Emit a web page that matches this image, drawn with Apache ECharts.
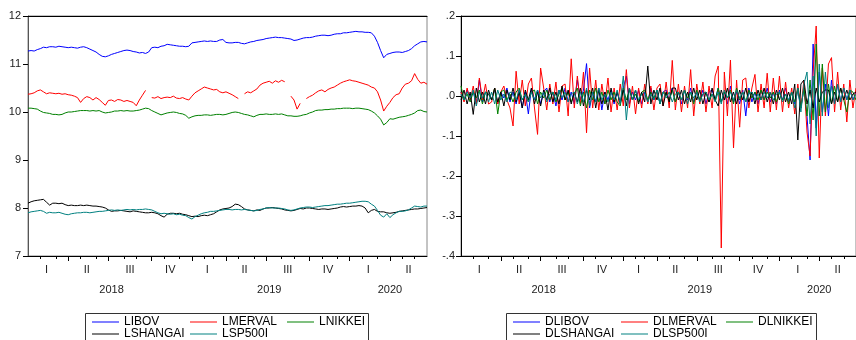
<!DOCTYPE html>
<html>
<head>
<meta charset="utf-8">
<script src="https://cdn.jsdelivr.net/npm/echarts@6/dist/echarts.min.js"></script>
<style>
  html, body { margin: 0; padding: 0; background: #fff; }
  #chart { width: 856px; height: 340px; }
</style>
</head>
<body>
<div id="chart"></div>
<script>
// observations per quarter, 2018 Q1 .. 2020 Q2 (roughly weekly)
const quarterLengths = [13, 13, 14, 13, 11, 13, 14, 13, 13, 12];
const quarterYears = ['2018', '2018', '2018', '2018', '2019', '2019', '2019', '2019', '2020', '2020'];
const quarterNames = ['I', 'II', 'III', 'IV', 'I', 'II', 'III', 'IV', 'I', 'II'];
const yearLabels = ['2018', '2019', '2020'];
const yearLabelIdx = [27, 78, 117];

// left panel: log levels
const LIBOV = [
  11.27, 11.28, 11.27, 11.30, 11.32, 11.35, 11.34, 11.36, 11.36, 11.35,
  11.37, 11.36, 11.35, 11.34, 11.35, 11.34, 11.33, 11.35, 11.36, 11.34,
  11.31, 11.28, 11.25, 11.20, 11.16, 11.15, 11.17, 11.20, 11.22, 11.24,
  11.26, 11.28, 11.29, 11.28, 11.26, 11.25, 11.23, 11.24, 11.22, 11.25,
  11.34, 11.35, 11.34, 11.37, 11.38, 11.41, 11.40, 11.39, 11.38, 11.37,
  11.37, 11.36, 11.37, 11.44, 11.45, 11.46, 11.47, 11.48, 11.47, 11.48,
  11.47, 11.47, 11.50, 11.51, 11.45, 11.44, 11.44, 11.45, 11.45, 11.43,
  11.42, 11.44, 11.46, 11.47, 11.49, 11.50, 11.51, 11.53, 11.54, 11.55,
  11.56, 11.55, 11.55, 11.54, 11.53, 11.52, 11.49, 11.50, 11.52, 11.54,
  11.55, 11.55, 11.56, 11.58, 11.59, 11.60, 11.60, 11.59, 11.60, 11.62,
  11.63, 11.63, 11.65, 11.65, 11.66, 11.67, 11.68, 11.67, 11.67, 11.66,
  11.66, 11.65, 11.58, 11.45, 11.28, 11.13, 11.20, 11.22, 11.24, 11.25,
  11.25, 11.24, 11.26, 11.28, 11.32, 11.38, 11.42, 11.46, 11.47, 11.46
];
const LMERVAL = [
  10.37, 10.38, 10.40, 10.44, 10.46, 10.42, 10.38, 10.40, 10.39, 10.38,
  10.39, 10.37, 10.38, 10.36, 10.35, 10.33, 10.30, 10.20, 10.28, 10.32,
  10.30, 10.25, 10.30, 10.26, 10.20, 10.14, 10.24, 10.25, 10.22, 10.26,
  10.25, 10.22, 10.24, 10.22, 10.20, 10.13, 10.25, 10.35, 10.45, null,
  10.30, 10.29, 10.32, 10.28, 10.30, 10.31, 10.30, 10.33, 10.29, 10.28,
  10.30, 10.27, 10.25, 10.33, 10.40, 10.44, 10.48, 10.52, 10.50, 10.48,
  10.46, 10.47, 10.42, 10.40, 10.42, 10.39, 10.36, 10.32, 10.28, null,
  10.38, 10.42, 10.40, 10.44, 10.48, 10.56, 10.60, 10.62, 10.64, 10.60,
  10.65, 10.62, 10.66, 10.63, null, 10.33, 10.25, 10.06, 10.18, null,
  10.28, 10.32, 10.35, 10.40, 10.44, 10.46, 10.42, 10.47, 10.50, 10.52,
  10.56, 10.60, 10.63, 10.65, 10.67, 10.65, 10.64, 10.62, 10.60, 10.58,
  10.56, 10.52, 10.50, 10.42, 10.25, 10.02, 10.12, 10.20, 10.30, 10.36,
  10.38, 10.50, 10.58, 10.60, 10.65, 10.80, 10.68, 10.60, 10.62, 10.58
];
const LNIKKEI = [
  10.08, 10.08, 10.07, 10.06, 10.02, 9.99, 9.98, 9.97, 9.95, 9.95,
  9.94, 9.95, 9.98, 10.00, 10.00, 10.01, 10.02, 10.03, 10.03, 10.03,
  10.02, 10.03, 10.02, 10.03, 10.00, 9.98, 9.99, 10.00, 10.02, 10.02,
  10.03, 10.02, 10.03, 10.02, 10.02, 10.03, 10.04, 10.06, 10.08, 10.07,
  10.03, 10.00, 9.97, 9.94, 9.96, 9.98, 9.99, 10.00, 9.99, 9.97,
  9.96, 9.93, 9.87, 9.90, 9.92, 9.93, 9.93, 9.94, 9.94, 9.93,
  9.94, 9.95, 9.95, 9.94, 9.95, 9.97, 9.99, 10.00, 9.99, 9.97,
  9.95, 9.94, 9.92, 9.90, 9.93, 9.95, 9.95, 9.96, 9.95, 9.95,
  9.96, 9.95, 9.96, 9.94, 9.92, 9.92, 9.91, 9.91, 9.92, 9.94,
  9.95, 9.98, 10.00, 10.03, 10.04, 10.04, 10.05, 10.05, 10.06, 10.06,
  10.07, 10.07, 10.08, 10.08, 10.08, 10.07, 10.08, 10.08, 10.07, 10.06,
  10.05, 10.02, 9.98, 9.92, 9.85, 9.73, 9.78, 9.86, 9.85, 9.87,
  9.89, 9.90, 9.91, 9.93, 9.95, 9.98, 10.03, 10.04, 10.01, 10.00
];
const LSHANGAI = [
  8.10, 8.13, 8.15, 8.16, 8.17, 8.18, 8.12, 8.06, 8.10, 8.10,
  8.09, 8.10, 8.07, 8.05, 8.06, 8.05, 8.05, 8.06, 8.05, 8.06,
  8.05, 8.04, 8.04, 8.03, 8.02, 8.00, 7.96, 7.93, 7.94, 7.94,
  7.95, 7.94, 7.93, 7.92, 7.94, 7.93, 7.92, 7.91, 7.90, 7.90,
  7.91, 7.90, 7.88, 7.84, 7.81, 7.87, 7.89, 7.89, 7.88, 7.89,
  7.87, 7.86, 7.84, 7.82, 7.83, 7.82, 7.84, 7.85, 7.84, 7.86,
  7.88, 7.92, 7.96, 7.98, 7.99, 8.00, 8.03, 8.08, 8.07, 8.03,
  7.98, 7.96, 7.95, 7.94, 7.96, 7.95, 7.98, 8.00, 8.00, 8.01,
  8.00, 7.99, 7.98, 7.96, 7.95, 7.94, 7.95, 7.97, 7.99, 7.98,
  8.00, 8.00, 7.99, 7.98, 7.97, 7.98, 7.98, 7.97, 7.98, 7.99,
  8.00, 8.02, 8.03, 8.02, 8.03, 8.04, 8.04, 8.05, 8.04, 8.00,
  7.90, 7.95, 7.97, 7.93, 7.92, 7.92, 7.90, 7.89, 7.90, 7.91,
  7.93, 7.94, 7.95, 7.96, 7.97, 7.98, 7.98, 7.99, 8.00, 8.01
];
const LSP500I = [
  7.90, 7.92, 7.93, 7.94, 7.95, 7.93, 7.89, 7.91, 7.90, 7.90,
  7.91, 7.89, 7.87, 7.86, 7.88, 7.89, 7.90, 7.90, 7.91, 7.91,
  7.90, 7.91, 7.92, 7.93, 7.93, 7.94, 7.95, 7.96, 7.95, 7.96,
  7.95, 7.96, 7.97, 7.96, 7.97, 7.96, 7.97, 7.97, 7.98, 7.97,
  7.96, 7.93, 7.90, 7.88, 7.89, 7.88, 7.87, 7.88, 7.86, 7.87,
  7.85, 7.84, 7.80, 7.77, 7.82, 7.85, 7.88, 7.90, 7.91, 7.93,
  7.93, 7.94, 7.95, 7.96, 7.97, 7.97, 7.96, 7.97, 7.97, 7.96,
  7.97, 7.96, 7.95, 7.94, 7.95, 7.97, 7.98, 8.00, 8.01, 8.00,
  8.00, 8.00, 7.99, 7.98, 7.96, 7.95, 7.96, 7.98, 8.00, 8.01,
  8.02, 8.02, 8.01, 8.02, 8.03, 8.04, 8.05, 8.05, 8.06, 8.07,
  8.08, 8.08, 8.09, 8.10, 8.10, 8.11, 8.12, 8.13, 8.14, 8.14,
  8.13, 8.08, 8.04, 7.95, 7.85, 7.81, 7.88, 7.80, 7.86, 7.90,
  7.93, 7.93, 7.94, 7.96, 8.00, 8.04, 8.03, 8.02, 8.04, 8.04
];

// right panel: log differences
const DLIBOV = [
  .01, -.01, .015, -.005, .01, -.02, .04, -.015, .01, .005,
  -.01, .015, -.02, .01, -.005, .02, -.015, .01, -.02, .015,
  -.03, .01, -.045, .02, -.01, .015, -.02, .01, .02, -.015,
  .01, -.025, .015, -.01, .02, -.015, .01, -.02, .04, -.01,
  .015, .081, -.03, .01, -.015, .02, -.035, .01, -.01, .015,
  -.02, .01, -.015, .02, .05, -.02, .01, -.01, .015, -.02,
  .01, -.015, .02, -.01, .015, -.02, .01, .015, -.01, .02,
  -.015, .01, -.02, .015, -.01, .02, -.015, .01, -.01, .015,
  -.02, .01, .015, -.01, .02, -.015, .01, -.02, .025, -.015,
  .01, -.02, .015, -.05, .02, -.015, .01, -.02, .015, -.01,
  .02, -.015, .01, -.02, .015, -.01, .02, -.015, .01, -.02,
  .015, -.03, .02, -.05, -.16, .13, -.08, .06, -.04, .03,
  -.05, .04, -.02, .03, -.015, .02, -.01, .015, -.01, .01
];
const DLMERVAL = [
  .01, -.015, .02, -.01, .025, -.02, .045, -.01, .03, -.02,
  -.015, .02, -.02, .01, .025, -.01, -.03, -.075, .062, -.02,
  .04, -.025, .03, .045, -.03, -.096, .07, .02, -.035, .03,
  -.02, .035, -.04, .025, .03, -.05, .093, -.03, .05, -.02,
  .06, -.092, .07, -.03, .04, -.035, .03, -.02, .045, -.04,
  .02, -.035, .03, -.025, .066, -.03, .025, -.045, .02, -.03,
  .03, -.02, .025, -.035, .02, .03, -.025, .035, -.03, .089,
  -.035, .03, -.04, .025, -.03, .066, -.05, .03, -.02, .035,
  -.04, .025, -.03, .05, .075, -.38, .06, -.05, .09, -.13,
  .04, -.078, .04, .045, -.03, .02, .054, -.04, .03, -.03,
  .057, -.04, .045, -.035, .05, -.04, .035, -.03, .02, -.045,
  .03, -.03, .04, -.09, -.15, .06, .175, -.155, .07, -.05,
  .08, .096, -.04, .06, -.035, .03, -.065, .04, -.03, .02
];
const DLNIKKEI = [
  .025, -.01, .005, -.015, .01, -.005, .015, -.02, .01, .005,
  -.01, .02, -.045, .01, .015, -.01, .005, -.015, .01, .02,
  -.01, .005, -.015, .01, .015, -.02, .01, -.005, .015, -.01,
  .01, -.015, .005, .02, -.01, .01, -.015, .005, .02, -.025,
  .01, -.03, .015, -.01, .02, -.015, .01, -.02, .015, -.01,
  .01, -.015, -.025, .02, -.01, .015, -.01, .005, -.015, .01,
  .015, -.01, .01, -.005, .015, -.02, .01, .005, -.01, .015,
  -.015, .01, -.01, .015, -.005, .01, -.02, .015, -.01, .005,
  .01, -.015, .005, -.01, .02, -.015, .01, -.005, .015, -.02,
  .02, -.01, .01, -.015, .015, -.005, .01, -.01, .015, -.01,
  .01, -.005, .01, -.015, .01, -.01, .005, -.02, .01, -.015,
  .02, -.03, .02, -.05, .04, -.06, .13, -.05, .08, -.04,
  .03, -.02, .025, -.015, .02, -.01, -.04, .015, .01, -.01
];
const DLSHANGAI = [
  -.01, .015, -.02, .01, -.046, .02, -.015, .01, -.02, .015,
  -.01, .02, -.015, .01, -.025, .015, -.01, .02, -.015, .01,
  -.03, .015, -.01, .02, -.02, .01, -.025, .015, -.01, .02,
  -.015, .01, -.02, .025, -.01, .015, -.02, .01, -.015, .02,
  -.025, .015, -.01, .02, -.03, .015, -.02, .01, -.035, .02,
  -.015, .01, -.02, .015, -.025, .02, -.01, .015, -.02, .01,
  -.015, .075, -.02, .015, -.01, .02, -.025, .01, -.015, .02,
  .02, -.01, .015, -.02, .01, -.015, .02, -.01, .015, -.02,
  .01, -.015, .02, -.01, -.025, .015, -.01, .02, -.015, .01,
  -.02, .015, -.01, .02, -.015, .01, -.02, .015, -.01, .02,
  -.015, .01, -.02, .015, -.01, .02, -.015, .01, -.02, .03,
  -.11, .03, .04, -.02, .015, -.03, .02, -.015, .01, .015,
  .015, -.02, .01, -.015, .02, -.01, .015, -.01, .005, .01
];
const DLSP500I = [
  .005, -.01, .01, -.005, .015, -.025, .01, -.005, .01, -.015,
  .01, -.02, .015, -.01, .005, -.015, .01, .005, -.01, .015,
  -.01, .005, -.015, .01, -.01, .015, -.005, .01, -.015, .005,
  .01, -.01, .015, -.005, .01, -.015, .005, .01, -.02, .01,
  -.015, .02, -.025, .01, -.015, .02, -.01, .005, -.015, .01,
  -.01, .015, -.02, .05, -.06, .02, -.01, .015, -.01, .005,
  .01, -.015, .005, -.01, .015, -.02, .01, -.005, .01, -.015,
  .005, .01, -.01, .015, -.02, .01, -.005, .01, -.015, .005,
  .01, -.01, .005, -.015, .01, -.02, .015, -.005, .01, -.01,
  .015, -.005, .01, -.015, .005, .01, -.01, .005, -.01, .01,
  -.005, .01, -.01, .005, .01, -.015, .005, -.01, .01, -.03,
  .02, -.04, .03, .06, -.07, .05, -.1, .08, -.05, .06,
  -.03, .025, -.02, .03, -.015, .02, -.01, .015, -.01, .005
];

const FONT = 'Liberation Sans, Arial, sans-serif';
const COLORS = ['#0000ff', '#ff0000', '#008000', '#000000', '#008080'];

// categories + tick / label positions derived from the quarter lengths
const periods = [];
const majorIdx = new Set();
const minorIdx = new Set();
const quarterMid = new Map();
let start = 0;
quarterLengths.forEach((len, q) => {
  majorIdx.add(start);
  minorIdx.add(start + Math.round(len / 3));
  minorIdx.add(start + Math.round(2 * len / 3));
  quarterMid.set(start + Math.floor(len / 2), quarterNames[q]);
  for (let w = 0; w < len; w++) periods.push(quarterYears[q] + '-' + q + '-' + w);
  start += len;
});
periods.push('end');
majorIdx.delete(0);
const yearAt = new Map(yearLabelIdx.map((i, k) => [i, yearLabels[k]]));

function xAxesFor(g) {
  const base = { type: 'category', gridIndex: g, data: periods, boundaryGap: false, splitLine: { show: false } };
  return [
    Object.assign({}, base, {
      position: 'bottom',
      axisLine: { onZero: false, lineStyle: { color: '#000', width: 1 } },
      axisTick: { length: 5, interval: i => majorIdx.has(i), lineStyle: { color: '#000' } },
      axisLabel: { interval: i => quarterMid.has(i), formatter: (v, i) => quarterMid.get(i) || '',
        margin: 8, fontSize: 11, color: '#222', fontFamily: FONT }
    }),
    Object.assign({}, base, {
      position: 'bottom',
      axisLine: { show: false, onZero: false },
      axisTick: { length: 3, interval: i => minorIdx.has(i), lineStyle: { color: '#000' } },
      axisLabel: { show: false }
    }),
    Object.assign({}, base, {
      position: 'bottom',
      axisLine: { show: false, onZero: false },
      axisTick: { show: false },
      axisLabel: { interval: i => yearAt.has(i), formatter: (v, i) => yearAt.get(i) || '',
        margin: 28, fontSize: 11, color: '#222', fontFamily: FONT }
    }),
    Object.assign({}, base, {
      position: 'top',
      axisLine: { onZero: false, lineStyle: { color: '#000', width: 1 } },
      axisTick: { show: false },
      axisLabel: { show: false }
    })
  ];
}

function lineSeries(name, data, color, g) {
  return {
    name: name, type: 'line', data: data, xAxisIndex: g * 4, yAxisIndex: g,
    symbol: 'none', connectNulls: false, animation: false,
    lineStyle: { width: 1, color: color }, itemStyle: { color: color }
  };
}

function legendCol(names, left) {
  return {
    data: names, orient: 'vertical', left: left, top: 316, padding: 0,
    icon: 'rect', itemWidth: 27, itemHeight: 1, itemGap: 0, selectedMode: false,
    textStyle: { fontSize: 12, lineHeight: 12, color: '#000', fontFamily: FONT }
  };
}

const levelNames = ['LIBOV', 'LMERVAL', 'LNIKKEI', 'LSHANGAI', 'LSP500I'];
const levelData = [LIBOV, LMERVAL, LNIKKEI, LSHANGAI, LSP500I];
const diffNames = ['DLIBOV', 'DLMERVAL', 'DLNIKKEI', 'DLSHANGAI', 'DLSP500I'];
const diffData = [DLIBOV, DLMERVAL, DLNIKKEI, DLSHANGAI, DLSP500I];

const option = {
  backgroundColor: '#fff',
  animation: false,
  grid: [
    { left: 28, top: 16, width: 399, height: 240, show: true, borderColor: '#888', borderWidth: 1 },
    { left: 461, top: 16, width: 399, height: 240, show: true, borderColor: '#888', borderWidth: 1 }
  ],
  xAxis: xAxesFor(0).concat(xAxesFor(1)),
  yAxis: [
    { type: 'value', gridIndex: 0, min: 7, max: 12, interval: 1,
      axisLine: { show: true, lineStyle: { color: '#555' } },
      axisTick: { show: true, length: 5, lineStyle: { color: '#000' } },
      axisLabel: { margin: 7, fontSize: 11, color: '#222', fontFamily: FONT },
      splitLine: { show: false } },
    { type: 'value', gridIndex: 1, min: -0.4, max: 0.2, interval: 0.1,
      axisLine: { show: true, lineStyle: { color: '#000' } },
      axisTick: { show: true, length: 5, lineStyle: { color: '#000' } },
      axisLabel: { margin: 6, fontSize: 11, color: '#222', fontFamily: FONT,
        formatter: v => (Math.round(v * 10) / 10).toFixed(1).replace(/^(-?)0\./, '$1.') },
      splitLine: { show: false } }
  ],
  legend: [
    legendCol([levelNames[0], levelNames[3]], 92),
    legendCol([levelNames[1], levelNames[4]], 190),
    legendCol([levelNames[2]], 287),
    legendCol([diffNames[0], diffNames[3]], 513),
    legendCol([diffNames[1], diffNames[4]], 621),
    legendCol([diffNames[2]], 726)
  ],
  graphic: [
    { type: 'rect', silent: true, shape: { x: 85.5, y: 313.5, width: 283, height: 40 },
      style: { fill: 'none', stroke: '#333', lineWidth: 1 } },
    { type: 'rect', silent: true, shape: { x: 506.5, y: 313.5, width: 310, height: 40 },
      style: { fill: 'none', stroke: '#333', lineWidth: 1 } }
  ],
  series: levelNames.map((n, k) => lineSeries(n, levelData[k], COLORS[k], 0))
    .concat(diffNames.map((n, k) => lineSeries(n, diffData[k], COLORS[k], 1)))
};

const chart = echarts.init(document.getElementById('chart'), null, { renderer: 'canvas' });
chart.setOption(option);
window.addEventListener('resize', function () { chart.resize(); });
</script>
</body>
</html>
